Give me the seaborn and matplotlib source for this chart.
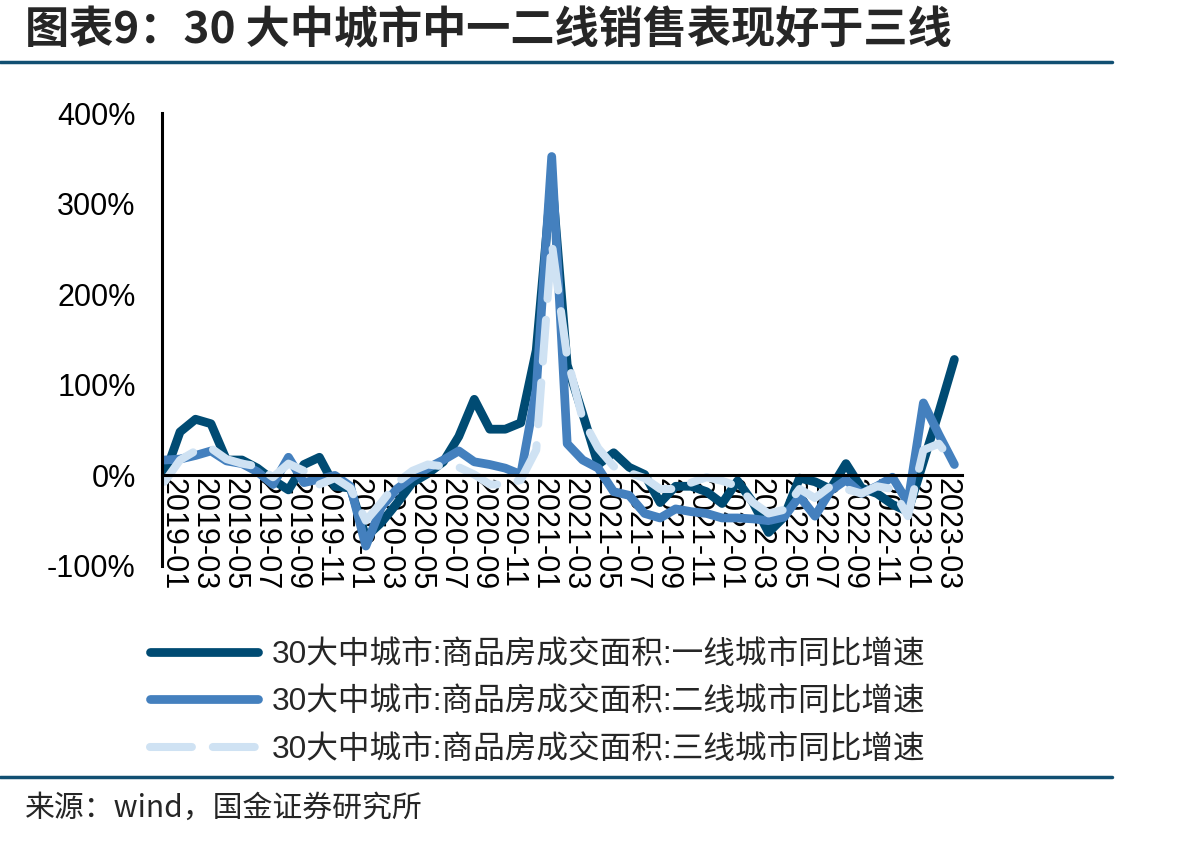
import matplotlib
matplotlib.use('Agg')
import matplotlib.pyplot as plt
from matplotlib.lines import Line2D
import seaborn as sns
import pandas as pd

# monthly categories 2019-01 .. 2023-04
months = [str(p) for p in pd.period_range('2019-01', '2023-04', freq='M')]

# 30大中城市 商品房成交面积 同比增速 (%)
tier1 = [0, 48, 62, 57, 17, 17, 8, -5, -16, 12, 20, -12, -14, -68, -52, -31, -8, 2,
         15, 43, 84, 51, 51, 58, 138, 330, 122, 68, 12, 25, 9, 1, -30, -12, -12, -18,
         -31, -6, -30, -63, -46, -3, -7, -15, 13, -14, -20, -32, -40, 15, 70, 128]
tier2 = [17, 18, 22, 27, 16, 13, 4, -10, 20, -8, -4, 0, -12, -78, -35, -15, -2, 8,
         17, 27, 15, 12, 8, 1, 95, 352, 35, 17, 8, -18, -22, -42, -47, -37, -40, -42,
         -47, -47, -48, -50, -46, -23, -45, -17, -5, -20, -12, -2, -30, 80, 45, 12]
tier3 = [-7, 17, 27, 30, 18, 13, 10, -2, 13, 5, -10, -3, -14, -50, -30, -8, 5, 12,
         10, 9, 1, -10, -10, -5, 28, 257, 130, 62, 30, 10, 3, -3, -15, -15, -8, -2,
         -6, -12, -30, -42, -38, -15, -25, -12, -15, -20, -12, -15, -45, 28, 35, 12]

series_names = ['30大中城市:商品房成交面积:一线城市同比增速',
                '30大中城市:商品房成交面积:二线城市同比增速',
                '30大中城市:商品房成交面积:三线城市同比增速']
colors = ['#004b73', '#4480be', '#cfe2f3']
y_ticks = [-100, 0, 100, 200, 300, 400]

title = '图表9：30 大中城市中一二线销售表现好于三线'
source = '来源：wind，国金证券研究所'

sns.set_theme(style='white')
plt.rcParams['font.family'] = ['Liberation Sans', 'Noto Sans CJK SC', 'DejaVu Sans']

df = pd.DataFrame({'idx': range(len(months)), 'month': months,
                   series_names[0]: tier1, series_names[1]: tier2, series_names[2]: tier3})

fig = plt.figure(figsize=(12.04, 8.41), dpi=100)
ax = fig.add_axes([0.1346, 0.327, 0.6645, 0.5386])

lw = 6.3
for name, col in zip(series_names, colors):
    sns.lineplot(data=df, x='idx', y=name, ax=ax, color=col, linewidth=lw,
                 solid_capstyle='round', solid_joinstyle='round', label=name)
lines = ax.get_lines()
lines[2].set_linewidth(5.8)
lines[2].set_dashes((5.2, 2.6))
lines[2].set_dash_capstyle('round')
lines[2].set_dash_joinstyle('round')
ax.get_legend().remove()

ax.set_xlim(-0.16, 51.5)
ax.set_ylim(-100, 400)
ax.set_xlabel('')
ax.set_ylabel('')

# axes styling
for s in ['top', 'right']:
    ax.spines[s].set_visible(False)
for s in ['left', 'bottom']:
    ax.spines[s].set_color('black')
    ax.spines[s].set_linewidth(2.2)
ax.spines['bottom'].set_position(('data', 0))

ax.set_yticks(y_ticks)
ax.set_yticklabels([f'{v}%' for v in y_ticks], fontsize=22)
ax.tick_params(axis='y', direction='in', length=6.5, width=2.2, pad=19, colors='black')

label_pos = [i + 0.5 for i in range(0, len(months), 2)]
ax.set_xticks(label_pos)
ax.set_xticklabels(months[::2], rotation=-90, ha='center', va='top', fontsize=22,
                   family=['Liberation Sans Narrow', 'Liberation Sans'])
ax.set_xticks([i + 0.5 for i in range(len(months))], minor=True)
ax.tick_params(axis='x', which='both', direction='in', length=6, width=2.2, pad=2,
               colors='black')
ax.grid(False)

# legend below the plot
fig.legend(lines, series_names, loc='upper left', bbox_to_anchor=(0.1246, 0.239),
           bbox_transform=fig.transFigure, frameon=False, handlelength=3.4,
           handletextpad=0.45, labelspacing=0.55, borderpad=0, borderaxespad=0,
           prop={'size': 22.8, 'family': ['Liberation Sans', 'Noto Sans CJK SC']})

# title, separators, source
fig.text(0.021, 0.964, title, fontsize=31.8, fontweight='bold',
         family=['Noto Sans CJK SC'], va='center', ha='left')
fig.add_artist(Line2D([0, 0.9236], [0.9263, 0.9263], color='#114f72', linewidth=2.5))
fig.add_artist(Line2D([0, 0.9236], [0.0761, 0.0761], color='#114f72', linewidth=2.5))
fig.text(0.021, 0.039, source, fontsize=21.5, family=['Noto Sans CJK SC'],
         va='center', ha='left')

fig.savefig('out.png', dpi=100)
